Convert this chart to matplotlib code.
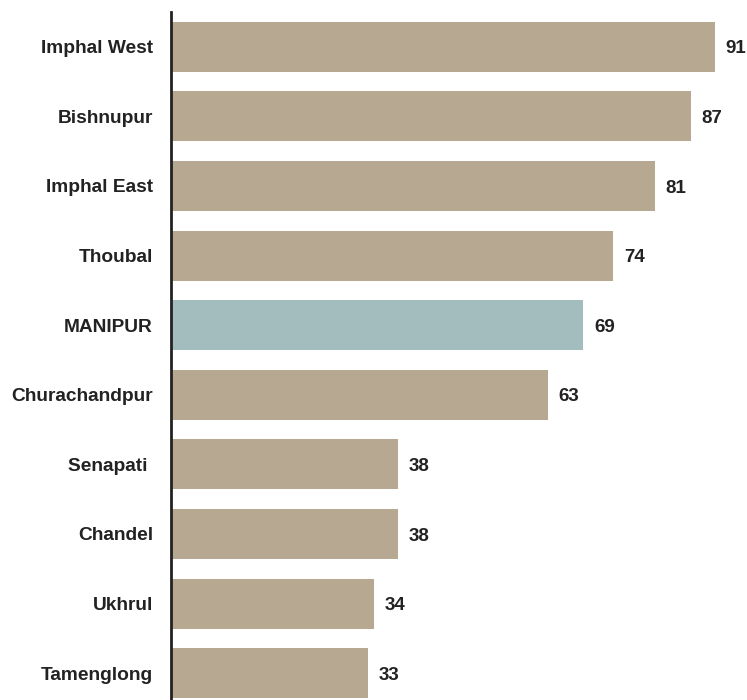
import matplotlib.pyplot as plt
import numpy as np

districts = ['Imphal West', 'Bishnupur', 'Imphal East', 'Thoubal', 'MANIPUR',
             'Churachandpur', 'Senapati ', 'Chandel', 'Ukhrul', 'Tamenglong']
values = [91, 87, 81, 74, 69, 63, 38, 38, 34, 33]
highlight = 'MANIPUR'

TAN = '#b6a891'
STATE = '#a3bcbe'

plt.rcParams['font.family'] = ['Liberation Sans', 'DejaVu Sans']

fig = plt.figure(figsize=(7.47, 7.0), dpi=100)
ax = fig.add_axes([171 / 747, -8 / 700, 576 / 747, 696 / 700])

y = np.arange(len(districts))
colors = [STATE if d == highlight else TAN for d in districts]
ax.barh(y, values, height=0.72, color=colors)

# value labels just past the end of each bar
for yi, v in zip(y, values):
    ax.annotate(str(v), (v, yi), xytext=(7.5, -1.5), textcoords='offset points',
                va='center', ha='left', fontsize=13.5, fontweight='bold',
                color='#222222')

ax.set_yticks(y)
ax.set_yticklabels(districts, fontsize=13.8, fontweight='bold', color='#222222')
ax.tick_params(axis='y', length=0, pad=13)
ax.set_xticks([])
ax.set_xlim(0, 96.35)
ax.set_ylim(len(districts) - 0.5, -0.5)

for side in ['top', 'right', 'bottom']:
    ax.spines[side].set_visible(False)
ax.spines['left'].set_linewidth(2)
ax.spines['left'].set_color('#222222')

fig.savefig('out.png', dpi=100)
